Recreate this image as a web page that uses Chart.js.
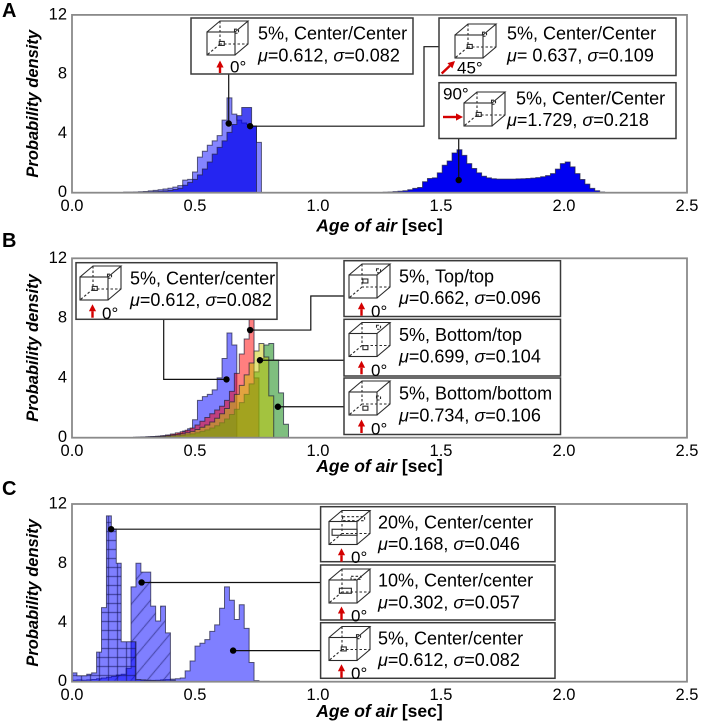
<!DOCTYPE html>
<html>
<head>
<meta charset="utf-8">
<script src="https://cdn.jsdelivr.net/npm/chart.js@4.4.1/dist/chart.umd.min.js"></script>
<style>
  html, body { margin: 0; padding: 0; background: #fff; }
  #fig { position: relative; width: 706px; height: 728px; }
  #fig canvas { position: absolute; left: 0; top: 0; }
</style>
</head>
<body>
<div id="fig">
  <canvas id="panelA" width="706" height="728"></canvas>
  <canvas id="panelB" width="706" height="728"></canvas>
  <canvas id="panelC" width="706" height="728"></canvas>
</div>
<script>
// axis ticks
const ageTicks = [0, 0.5, 1.0, 1.5, 2.0, 2.5];
const densityTicks = [0, 4, 8, 12];
const binWidth = 0.02;

// A: 5% opening, center/center, inflow at 0, 45 and 90 degrees
const a0Start = 0.21;
const a0Density = [0.04, 0.04, 0.05, 0.06, 0.08, 0.12, 0.16, 0.2, 0.25, 0.3, 0.38, 0.48, 0.85, 0.9,
  1.4, 2.4, 2.8, 3.2, 3.5, 3.85, 4.9, 6.4, 5.3, 4.9, 4.7, 4.6, 4.5, 3.4];
const a45Start = 0.29;
const a45Density = [0.03, 0.05, 0.07, 0.09, 0.12, 0.16, 0.22, 0.3, 0.5, 0.7, 0.9, 1.2, 1.6, 2.07,
  2.6, 3.06, 3.5, 4.07, 4.6, 5.2, 5.75, 5.75, 4.5];
const a90Start = 1.265;
const a90Density = [0.03, 0.05, 0.07, 0.1, 0.13, 0.2, 0.29, 0.35, 0.74, 0.96, 1.0,
  1.34, 1.85, 2.14, 2.68, 2.9, 2.52, 1.96, 1.63, 1.34, 1.11, 1.0,
  0.94, 0.92, 0.92, 0.92, 0.92, 0.93, 0.94, 0.96, 0.98, 1.02, 1.08,
  1.15, 1.29, 1.59, 1.96, 2.07, 1.74, 1.29, 0.89, 0.58, 0.29, 0.13, 0.05];

// B: 5% opening, inlet/outlet heights
const bCenterStart = 0.25;
const bCenterDensity = [0.03, 0.04, 0.05, 0.06, 0.08, 0.1, 0.13, 0.17, 0.22, 0.3, 0.45, 0.6, 1.2,
  2.5, 2.75, 2.9, 3.2, 4.0, 5.3, 7.0, 6.2];
const bTopTopStart = 0.26;
const bTopTopDensity = [0.03, 0.05, 0.06, 0.08, 0.1, 0.13, 0.18, 0.25, 0.32, 0.4, 0.5, 0.65, 0.85,
  1.1, 1.35, 1.6, 1.85, 2.1, 2.5, 3.1, 4.3, 5.6, 6.6, 8.4, 4.0];
const bBottomTopStart = 0.28;
const bBottomTopDensity = [0.03, 0.04, 0.05, 0.07, 0.09, 0.12, 0.16, 0.2, 0.26, 0.33, 0.42, 0.55, 0.7,
  0.85, 1.05, 1.3, 1.6, 1.95, 2.4, 2.9, 3.5, 4.2, 5.0, 5.8, 6.3, 5.4, 2.8];
const bBottomBottomStart = 0.30;
const bBottomBottomDensity = [0.02, 0.03, 0.04, 0.05, 0.07, 0.09, 0.12, 0.15, 0.2, 0.26, 0.33, 0.42,
  0.52, 0.65, 0.8, 1.0, 1.25, 1.55, 1.9, 2.35, 2.9, 3.6, 4.4, 5.3, 6.2, 6.3, 5.2, 3.0, 0.9];

// C: opening size 20%, 10%, 5%
const c20Start = 0.0;
const c20Density = [0.6, 0.4, 0.4, 0.5, 0.6, 2.0, 5.0, 11.2, 10.3, 8.0, 2.7, 2.7, 2.7,
  0.15, 0.12, 0.1, 0.08, 0.06, 0.05, 0.04];
const c10Start = 0.0;
const c10Density = [0.1, 0.12, 0.1, 0.12, 0.15, 0.2, 0.25, 0.3, 0.35, 0.45, 0.5, 0.9,
  6.4, 8.0, 7.4, 7.4, 5.1, 4.1, 5.1, 3.3, 0.1];
const c5Start = 0.20;
const c5Density = [0.03, 0.04, 0.05, 0.06, 0.07, 0.08, 0.09, 0.1, 0.12, 0.14, 0.17, 0.2, 0.25,
  0.73, 1.4, 2.4, 2.6, 2.84, 3.4, 3.84, 4.96, 6.4, 5.5, 4.2, 5.2, 3.6, 1.3, 0.07];

// callout labels and statistics
const labelsA = ['5%, Center/Center', '5%, Center/Center', '5%, Center/Center'];
const muA = ['0.612', ' 0.637', '1.729'];
const sigmaA = ['0.082', '0.109', '0.218'];
const labelsB = ['5%, Center/center', '5%, Top/top', '5%, Bottom/top', '5%, Bottom/bottom'];
const muB = ['0.612', '0.662', '0.699', '0.734'];
const sigmaB = ['0.082', '0.096', '0.104', '0.106'];
const labelsC = ['20%, Center/center', '10%, Center/center', '5%, Center/center'];
const muC = ['0.168', '0.302', '0.612'];
const sigmaC = ['0.046', '0.057', '0.082'];

// where the callout leaders touch the histograms [age, density]
const marksA = [[0.637, 4.67], [0.724, 4.49], [1.572, 0.85]];
const marksB = [[0.628, 3.9], [0.724, 7.2], [0.764, 5.18], [0.837, 2.07]];
const marksC = [[0.159, 10.3], [0.283, 6.7], [0.655, 2.1]];

// ---------------------------------------------------------------
const FONT = "'Liberation Sans', Arial, Helvetica, sans-serif";
const W = 706, H = 728;
const BOX_FONT = 18;

function steps(start, heights) {
  const pts = [{ x: start, y: 0 }];
  heights.forEach((h, i) => pts.push({ x: +(start + i * binWidth).toFixed(4), y: h }));
  pts.push({ x: +(start + heights.length * binWidth).toFixed(4), y: 0 });
  return pts;
}

function hatch(kind) {
  const c = document.createElement('canvas');
  const g = c.getContext('2d');
  if (kind === 'diag') {
    c.width = 16; c.height = 19;
    g.fillStyle = 'rgba(0,0,255,0.5)'; g.fillRect(0, 0, 16, 19);
    g.strokeStyle = 'rgba(20,20,90,0.75)'; g.lineWidth = 1;
    g.beginPath(); g.moveTo(0, 19); g.lineTo(16, 0); g.stroke();
  } else {
    c.width = 9; c.height = 9;
    g.fillStyle = 'rgba(0,0,255,0.5)'; g.fillRect(0, 0, 9, 9);
    g.strokeStyle = 'rgba(20,20,90,0.7)'; g.lineWidth = 1;
    g.beginPath(); g.moveTo(0, 0.5); g.lineTo(9, 0.5); g.moveTo(0.5, 0); g.lineTo(0.5, 9); g.stroke();
  }
  return g.createPattern(c, 'repeat');
}

const cubeKinds = {
  c:   { out: [0.36, 0.66, 5, 4], inl: [0.72, 0.30, 4, 4] },
  top: { out: [0.40, 0.50, 5, 4], inl: [0.72, 0.20, 4, 4] },
  bt:  { out: [0.40, 0.74, 5, 4], inl: [0.72, 0.14, 4, 4] },
  bb:  { out: [0.40, 0.80, 5, 4], inl: [0.72, 0.50, 4, 4] },
  p10: { out: [0.40, 0.64, 12, 5], inl: [0.66, 0.26, 10, 3] },
  p20: { out: [0.38, 0.64, 25, 6], inl: [0.60, 0.24, 22, 4] }
};

function drawCube(ctx, left, top, kind) {
  const fw = 28, fh = 23, dx = 13, dy = 11;
  const fx = left, fy = top + dy;
  const bw = fw + dx, bh = fh + dy;
  ctx.strokeStyle = '#2a2a2a'; ctx.lineWidth = 1.1; ctx.setLineDash([]);
  ctx.strokeRect(fx, fy, fw, fh);
  ctx.beginPath();
  ctx.moveTo(fx, fy); ctx.lineTo(fx + dx, fy - dy); ctx.lineTo(fx + fw + dx, fy - dy); ctx.lineTo(fx + fw, fy);
  ctx.moveTo(fx + fw + dx, fy - dy); ctx.lineTo(fx + fw + dx, fy + fh - dy); ctx.lineTo(fx + fw, fy + fh);
  ctx.stroke();
  ctx.setLineDash([2.5, 2]);
  ctx.beginPath();
  ctx.moveTo(fx + dx, fy - dy); ctx.lineTo(fx + dx, fy + fh - dy); ctx.lineTo(fx + fw + dx, fy + fh - dy);
  ctx.moveTo(fx + dx, fy + fh - dy); ctx.lineTo(fx, fy + fh);
  ctx.stroke();
  const k = cubeKinds[kind];
  ctx.strokeRect(fx + k.inl[0] * bw - k.inl[2] / 2, top + k.inl[1] * bh - k.inl[3] / 2, k.inl[2], k.inl[3]);
  ctx.setLineDash([]);
  ctx.strokeRect(fx + k.out[0] * bw - k.out[2] / 2, top + k.out[1] * bh - k.out[3] / 2, k.out[2], k.out[3]);
}

function redArrow(ctx, x0, y0, x1, y1) {
  const ang = Math.atan2(y1 - y0, x1 - x0), hl = 7, hw = 3.6;
  const bx = x1 - hl * Math.cos(ang), by = y1 - hl * Math.sin(ang);
  ctx.strokeStyle = ctx.fillStyle = '#d40000';
  ctx.lineWidth = 2.4; ctx.setLineDash([]);
  ctx.beginPath(); ctx.moveTo(x0, y0); ctx.lineTo(bx, by); ctx.stroke();
  ctx.beginPath(); ctx.moveTo(x1, y1);
  ctx.lineTo(bx + hw * Math.sin(ang), by - hw * Math.cos(ang));
  ctx.lineTo(bx - hw * Math.sin(ang), by + hw * Math.cos(ang));
  ctx.closePath(); ctx.fill();
}

function textRuns(ctx, x, y, parts, size) {
  let cx = x;
  parts.forEach(([t, style]) => {
    ctx.font = style + ' ' + size + 'px ' + FONT;
    ctx.fillText(t, cx, y);
    cx += ctx.measureText(t).width;
  });
}

function decor(p) {
  return {
    id: 'decor',
    afterDraw(chart) {
      const ctx = chart.ctx, a = chart.chartArea;
      const xs = chart.scales.x, ys = chart.scales.y;
      ctx.save();
      ctx.strokeStyle = '#8a8a8a'; ctx.lineWidth = 1.8;
      ctx.strokeRect(a.left, a.top, a.right - a.left, a.bottom - a.top);

      ctx.fillStyle = '#000'; ctx.textBaseline = 'alphabetic'; ctx.textAlign = 'left';
      ctx.font = 'bold 20px ' + FONT;
      ctx.fillText(p.letter, 2, p.letterY);

      // x title
      ctx.textBaseline = 'middle';
      ctx.font = 'italic bold 17.5px ' + FONT;
      const w1 = ctx.measureText('Age of air').width;
      ctx.font = 'bold 17.5px ' + FONT;
      const w2 = ctx.measureText(' [sec]').width;
      textRuns(ctx, (a.left + a.right) / 2 - (w1 + w2) / 2, p.titleY,
        [['Age of air', 'italic bold'], [' [sec]', 'bold']], 17.5);
      // y title
      ctx.save();
      ctx.translate(33.6, (a.top + a.bottom) / 2);
      ctx.rotate(-Math.PI / 2);
      ctx.textAlign = 'center';
      ctx.font = 'italic bold 16.5px ' + FONT;
      ctx.fillText('Probability density', 0, 0);
      ctx.restore();

      // callouts
      ctx.textBaseline = 'alphabetic'; ctx.textAlign = 'left';
      p.notes.forEach((n, i) => {
        const dx = xs.getPixelForValue(p.marks[i][0]), dy = ys.getPixelForValue(p.marks[i][1]);
        ctx.strokeStyle = '#111'; ctx.lineWidth = 1.2; ctx.setLineDash([]);
        ctx.beginPath(); ctx.moveTo(dx, dy);
        let cx = dx, cy = dy;
        n.lead.forEach(([lx, ly]) => {
          if (lx !== null) cx = lx;
          if (ly !== null) cy = ly;
          ctx.lineTo(cx, cy);
        });
        ctx.stroke();
        const [x0, y0, x1, y1] = n.box;
        ctx.fillStyle = '#fff';
        ctx.fillRect(x0, y0, x1 - x0, y1 - y0);
        ctx.strokeStyle = '#3a3a3a'; ctx.lineWidth = 1.5;
        ctx.strokeRect(x0, y0, x1 - x0, y1 - y0);
        ctx.fillStyle = '#000';
        ctx.beginPath(); ctx.arc(dx, dy, 3.2, 0, Math.PI * 2); ctx.fill();

        drawCube(ctx, n.cube[0], n.cube[1], n.cube[2]);
        const ar = n.arrow || [n.cube[0] + 12.5, y0 + 55, n.cube[0] + 12.5, y0 + 41.5];
        redArrow(ctx, ar[0], ar[1], ar[2], ar[3]);
        const dg = n.deg || ['0°', n.cube[0] + 22, y0 + 56.5];
        ctx.fillStyle = '#000';
        ctx.font = '17px ' + FONT;
        ctx.fillText(dg[0], dg[1], dg[2]);

        ctx.font = BOX_FONT + 'px ' + FONT;
        ctx.fillText(p.labels[i], n.tx[0], y0 + 21.6);
        textRuns(ctx, n.tx[1], y0 + 43.3, [
          ['μ', 'italic'], ['=' + p.mu[i] + ', ', 'normal'],
          ['σ', 'italic'], ['=' + p.sigma[i], 'normal']
        ], BOX_FONT);
      });
      ctx.restore();
    }
  };
}

const edge = 'rgba(30,30,60,0.7)';
const panels = [
  {
    id: 'panelA', letter: 'A', letterY: 17, top: 13.3, bottom: 192.7, titleY: 226.5,
    series: [
      { pts: steps(a0Start, a0Density), fill: 'rgba(0,0,255,0.48)' },
      { pts: steps(a45Start, a45Density), fill: 'rgba(0,0,235,0.72)' },
      { pts: steps(a90Start, a90Density), fill: '#0000f2' }
    ],
    labels: labelsA, mu: muA, sigma: sigmaA, marks: marksA,
    notes: [
      { box: [191, 18, 413, 74], cube: [207, 21, 'c'], tx: [258, 258],
        arrow: [220, 73, 220, 60.5], deg: ['0°', 230, 72.5], lead: [[null, 74]] },
      { box: [439, 18, 676, 75.5], cube: [455, 24, 'c'], tx: [507, 507],
        arrow: [441.7, 73.5, 455, 61], deg: ['45°', 457, 73.5],
        lead: [[424, null], [424, 46.7], [439, 46.7]] },
      { box: [439, 82.7, 676, 138.5], cube: [464, 92, 'c'], tx: [516, 507],
        arrow: [443, 117, 463, 117], deg: ['90°', 443, 99.5], lead: [[null, 138.5]] }
    ]
  },
  {
    id: 'panelB', letter: 'B', letterY: 247, top: 258.3, bottom: 437.7, titleY: 467,
    series: [
      { pts: steps(bCenterStart, bCenterDensity), fill: 'rgba(0,0,255,0.5)' },
      { pts: steps(bTopTopStart, bTopTopDensity), fill: 'rgba(255,0,0,0.5)' },
      { pts: steps(bBottomBottomStart, bBottomBottomDensity), fill: 'rgba(0,128,0,0.5)' },
      { pts: steps(bBottomTopStart, bBottomTopDensity), fill: 'rgba(200,200,0,0.5)' }
    ],
    labels: labelsB, mu: muB, sigma: sigmaB, marks: marksB,
    notes: [
      { box: [76, 262.7, 277, 319.3], cube: [80, 266, 'c'], tx: [130, 130],
        lead: [[163.7, null], [163.7, 319.3]] },
      { box: [344, 260.7, 560.5, 316.5], cube: [349, 264, 'top'], tx: [399, 399],
        lead: [[310.8, null], [310.8, 296], [344, 296]] },
      { box: [344, 319.3, 560.5, 376], cube: [349, 322.5, 'bt'], tx: [399, 399], lead: [[344, null]] },
      { box: [344, 378, 560.5, 434.5], cube: [349, 381, 'bb'], tx: [399, 399], lead: [[344, null]] }
    ]
  },
  {
    id: 'panelC', letter: 'C', letterY: 495, top: 504, bottom: 681.7, titleY: 712,
    series: [
      { pts: steps(c5Start, c5Density), fill: 'rgba(0,0,255,0.5)' },
      { pts: steps(c10Start, c10Density), fill: hatch('diag') },
      { pts: steps(c20Start, c20Density), fill: hatch('grid') }
    ],
    labels: labelsC, mu: muC, sigma: sigmaC, marks: marksC,
    notes: [
      { box: [320.6, 506.7, 555, 561.7], cube: [329, 510.5, 'p20'], tx: [378, 378], lead: [[320.6, null]] },
      { box: [320.6, 565, 555, 620], cube: [329, 569, 'p10'], tx: [378, 378], lead: [[320.6, null]] },
      { box: [320.6, 622.7, 555, 678.3], cube: [329, 626.5, 'c'], tx: [378, 378], lead: [[320.6, null]] }
    ]
  }
];

const tickFont = { family: FONT, size: 16.5 };

panels.forEach(p => {
  const n = p.series.length;
  new Chart(document.getElementById(p.id), {
    type: 'line',
    data: {
      datasets: p.series.map((s, i) => ({
        data: s.pts,
        stepped: 'before',
        fill: 'origin',
        backgroundColor: s.fill,
        borderColor: edge,
        borderWidth: 1,
        pointRadius: 0,
        order: n - i
      }))
    },
    options: {
      responsive: false,
      animation: false,
      devicePixelRatio: 2,
      events: [],
      layout: { padding: { top: p.top, right: W - 687, left: 0, bottom: 0 } },
      plugins: { legend: { display: false }, tooltip: { enabled: false } },
      scales: {
        x: {
          type: 'linear', min: ageTicks[0], max: ageTicks[ageTicks.length - 1],
          afterBuildTicks: s => { s.ticks = ageTicks.map(v => ({ value: v })); },
          ticks: { font: tickFont, color: '#000', padding: 4, maxRotation: 0, autoSkip: false,
                   callback: v => v.toFixed(1) },
          grid: { display: false, drawTicks: false },
          border: { display: false },
          afterFit: s => { s.height = H - p.bottom; }
        },
        y: {
          min: densityTicks[0], max: densityTicks[densityTicks.length - 1],
          afterBuildTicks: s => { s.ticks = densityTicks.map(v => ({ value: v })); },
          ticks: { font: tickFont, color: '#000', padding: 5 },
          grid: { display: false, drawTicks: false },
          border: { display: false },
          afterFit: s => { s.width = 72; }
        }
      }
    },
    plugins: [decor(p)]
  });
});
</script>
</body>
</html>
